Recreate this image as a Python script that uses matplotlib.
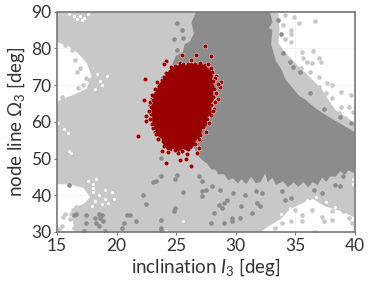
#!/usr/bin/env python3
# Scatter of inclination vs node line, three nested samples.
import matplotlib
matplotlib.use('Agg')
import matplotlib.pyplot as plt

plt.rcParams['font.family'] = ['Lato', 'DejaVu Sans']
plt.rcParams['mathtext.fontset'] = 'custom'
plt.rcParams['mathtext.rm'] = 'Lato'
plt.rcParams['mathtext.it'] = 'Lato:italic'

# Dense parts of the samples, read as outlines (inclination, node line).
light_x = [15, 15, 16, 16.8, 17.5, 17.9, 17.5, 16.5, 15, 15, 16, 17.2, 17.8, 17.3, 16.2, 16.3, 16.6, 32.1, 33, 33.8, 34.5, 35.4,
           36.5, 37.5, 39, 40, 40, 39.2, 38.4, 37.8, 37.3, 36.6, 35.9, 35.3, 34.8, 34.2, 33.6, 33.7, 33.6, 15]
light_y = [90, 81.7, 80.5, 78.5, 76, 72.5, 69, 67.5, 65.5, 43, 43, 42, 39.5, 37.8, 36.2, 33, 30, 30, 32, 33.5, 36, 37.5,
           39, 37, 35.5, 34, 59.7, 61.5, 63.2, 66, 68.6, 71, 73.3, 75, 76.8, 78.8, 81.4, 85, 90, 90]
dark_x = [26.7, 32.9, 33.1, 32.8, 33.1, 33, 33.2, 33.4, 33.9, 34.2, 34.8, 35.3, 35.9, 36.6, 37.3, 38, 38.7, 39.4, 40,
          40, 39.5, 39.2, 38.8, 38.4, 38, 37.6, 37.3, 36.9, 36.5, 36.1, 35.7, 35.3, 34.9, 34.4, 34, 33.4, 33.1, 32.7,
          32.5, 32.1, 31.7, 31.3, 30.9, 30.5, 30.2, 29.8, 29.4, 29, 28.6, 28.3, 28, 27.6, 27.2, 26.8, 25.5, 24.5, 25,
          25.6, 25.7, 26.2, 26.5, 26.3]
dark_y = [90, 90, 87, 85.5, 85, 81, 78.7, 76.5, 74, 71.5, 69.2, 67.2, 65.9, 64, 62.4, 61, 59.7, 58.4, 57.2,
          46, 46.8, 45.6, 46.5, 45, 45.2, 43.6, 44.8, 42.8, 43.6, 42.2, 43.6, 42.3, 43.5, 42.2, 43.8, 42.8, 44.8, 43.5,
          46, 43.6, 43.3, 45, 43, 44.4, 43.2, 44.6, 44.1, 45.8, 45.6, 47, 47, 48.6, 49.6, 51, 60, 74, 78,
          79, 81, 82, 84, 87]
red_x = [25, 25.5, 25.9, 26.3, 26.7, 27.1, 27.5, 27.9, 28.1, 28, 28.25, 28.1, 28.2, 27.9, 28, 27.6, 27.6, 27.2, 27.1, 26.7, 26.5,
         26, 25.6, 25.2, 24.7, 24.3, 23.9, 23.8, 23.4, 23.2, 23, 23, 22.9, 23.1, 23.1, 23.4, 23.5, 23.9, 24.2, 24.6]
red_y = [75, 75.8, 75.3, 76, 75.4, 75.8, 75.2, 74, 72.5, 71, 69.5, 68, 66, 64.8, 62.5, 61, 59, 58, 56, 55, 53.4,
         52, 52.6, 51.8, 52.7, 52.2, 54, 55.3, 56.3, 58.5, 60, 62, 64, 65.5, 67.5, 68.5, 70, 71.5, 73, 74.5]

# Separate points.
light_px = [16.9, 16.7, 17.4, 17.7, 17.2, 16.8, 17.7, 16.1, 15.4, 15.3, 16.5, 16, 18.2, 19.1, 15.7, 16.3, 17.9,
            35, 35.6, 34.7, 33.9, 33.3, 36.7, 36.4, 37.3, 38.1, 38.1, 37.4, 39, 39.5, 39.8, 39.2, 35.6,
            34.9, 35.3, 36.7, 34.2, 34.7, 34.7, 34, 34.2, 34.7, 35.6, 36.5, 35.7, 37, 37.2, 36, 36.4, 35.5,
            36.3, 37, 37.7, 38.1, 38.9, 39.7, 37, 38.1, 38.9, 39.5, 39.9, 38.7, 39.2, 37.8, 37.6,
            15.5, 16.2, 16.8, 15.4, 15.7, 16.1, 16.4, 15.2, 16.7, 17, 16.6, 16.9]
light_py = [74.5, 73.6, 71.8, 71.4, 70, 69.1, 67.3, 66.4, 66.8, 64.6, 76.8, 81.8, 74.5, 74.5, 80.8, 79.4, 75.6,
            36.1, 34.7, 33, 32.5, 31, 30, 36.1, 34.1, 35.6, 33.4, 33, 35.6, 33.7, 32.4, 37, 32.9,
            88.6, 87, 87.4, 89, 85, 84, 86.3, 82.4, 81.8, 79, 79.3, 77.3, 77.3, 76.3, 76.3, 75.9, 74.5,
            73.6, 72.3, 70.6, 70, 68.2, 67.3, 69.5, 66.4, 64.1, 64.1, 62.7, 62.3, 60.9, 63.2, 67.7,
            34, 35, 32, 31.5, 35, 33.5, 31, 30.8, 36, 34.5, 36.8, 33]
dark_px = [18.5, 18.2, 18.6, 18.3, 18.8, 18.5, 18.9, 16.4, 16.6, 17.4, 17.4, 17.3, 19, 16, 20.9, 21.1, 20.6, 21.6,
           20.5, 22.2, 22.5, 23.1, 23.3, 23.7, 23.7, 23.7, 23.7, 23.7, 24.9, 25.1, 24.8, 24.9, 25.6,
           26.9, 27.2, 27.2, 27.2, 27.5, 28, 28.7, 28.6, 29, 29.3, 28.9, 28.2, 27.9, 29, 29.7, 29.7, 30.4,
           30.5, 31.4, 31.8, 32.1, 29.8, 30.8, 31.7, 32.2, 33.9, 34.7, 34.2, 36.6, 37.3, 38.4, 38.8, 39,
           33.6, 33.8, 34, 34.6, 34.8, 35.4, 36.3, 37.4, 38.8, 39.7, 25.1, 25.5, 24.8, 25.6, 25.1, 24.9, 25.5]
dark_py = [35, 33.8, 33.8, 32.4, 34.7, 31.6, 33, 34.7, 35, 34.5, 32.5, 30.2, 30.4, 42.9, 34.5, 34.5, 32.4, 32.9,
           31.2, 40.2, 37.5, 43.5, 43.9, 45.2, 50.2, 33.4, 31.1, 30.2, 44.3, 45.5, 35.7, 36.6, 41,
           45.2, 43.9, 41.1, 39.7, 41.5, 42.4, 41.5, 37.4, 37.9, 38.8, 36.5, 35.2, 32.4, 32.4, 33.8, 32.9, 33.8,
           37, 35.2, 37.9, 37, 40.6, 40.2, 41.1, 40.6, 41.1, 39.3, 38.8, 41.5, 40.6, 42.9, 42.4, 45.2,
           87.7, 84, 78.6, 76.3, 75, 73.6, 67.7, 63.6, 61.2, 59.7, 87, 85, 82.5, 82.7, 79.5, 76.3, 76.3]
red_px = [27.4, 27.9, 26.7, 25.5, 24.2, 24, 22.4, 22.3, 22.5, 22.5, 21.8, 23.2, 24.2, 23.8, 25.3, 26.3, 25.8, 26.8,
          26.9, 28.4, 28.8, 28.7, 28.5, 28.2, 27.5, 27, 22.8, 23, 23.9,
          24.9, 25.3, 25.6, 26, 26.3, 26.6, 27, 27.4, 27.7, 27.9,
          28, 28.3, 28.1, 28.5, 28.2, 28.4, 28.1, 28.3, 27.9, 28.1, 27.9, 27.6, 27.8, 27.3, 27.5, 27, 26.9, 26.6, 26.2,
          26, 25.9, 25.5, 25.2, 24.9, 24.5, 24.3, 24, 23.9, 23.5, 23.7, 23.3,
          23.1, 23, 23.2, 22.8, 22.9, 22.7, 22.9, 22.8, 23.1, 23, 23.3, 23.2, 23.6, 23.4, 23.8, 24, 24.2, 24.5, 24.6]
red_py = [80.6, 77.9, 78.2, 78.2, 76.5, 75.6, 71.5, 65.8, 61.6, 60.3, 56.1, 57.1, 48.9, 52, 49.6, 48, 50, 51.4,
          52.8, 72.4, 70.9, 69.5, 66.2, 63.6, 60.2, 55, 64.5, 66.4, 72.3,
          75.3, 76, 75.6, 75.8, 76.7, 75.7, 76, 75.5, 75.7, 74.6,
          73.5, 72, 71, 70.3, 69, 67.8, 66.6, 65.5, 64.6, 62.8, 61.8, 60.8, 59.6, 58.5, 57.3, 56.4, 55.2, 54, 53.2,
          52.6, 51.2, 52, 51.4, 52.2, 52.5, 51.8, 53.5, 54.7, 55.2, 56.3, 56.6,
          58.3, 59.3, 60.2, 60.8, 62, 63, 64, 65.3, 66, 67.2, 68, 69, 69.8, 70.7, 71.3, 72.1, 73.2, 73.9, 74.8]
gap_x = [16, 16.4, 16.9, 17.3, 17.6, 17.1, 16.7, 15.1, 15.6, 15.9, 16, 16.2, 23.7, 24.2, 25.6,
         18, 18.5, 19, 18.2, 18.8, 19.3, 19.6, 18, 17.6, 18.3, 19, 17.9, 18, 19.8,
         18.1, 18.4, 18.6, 18.2, 18.8, 19.2, 33.8, 34.6, 35.2, 35.8, 36, 36.8, 37.6, 38.4, 39.9, 39.9]
gap_y = [89.3, 88.7, 88.9, 88.3, 89.4, 87.6, 88, 59.6, 58, 57, 52, 51.6, 30.5, 30.3, 33,
         41, 40, 39, 38.5, 37.5, 38, 41, 43, 44, 44.5, 41.5, 37, 42, 39,
         74.5, 73, 71, 69, 70, 72.5, 34.8, 36.6, 35.8, 37.8, 38.8, 39.6, 38.2, 36.8, 43, 44.5]

x_ticks = [15, 20, 25, 30, 35, 40]
y_ticks = [30, 40, 50, 60, 70, 80, 90]

LIGHT = '#c8c8c8'
DARK = '#8c8c8c'
RED = '#990000'

fig, ax = plt.subplots()
fig.set_size_inches(3.69, 2.87)
fig.subplots_adjust(left=57 / 369, right=354.5 / 369, top=1 - 11.5 / 287, bottom=1 - 232 / 287)

ax.grid(color='#f2f2f2', linewidth=0.6, zorder=0)
ax.set_axisbelow(True)
ax.fill(light_x, light_y, color=LIGHT, linewidth=0, zorder=1)
ax.scatter(gap_x, gap_y, s=5, color='white', linewidths=0, zorder=1.4)
ax.scatter(light_px, light_py, s=11, color=LIGHT, linewidths=0, zorder=1.5)
ax.fill(dark_x, dark_y, color=DARK, linewidth=0, zorder=2)
ax.scatter(dark_px, dark_py, s=11, color=DARK, linewidths=0, zorder=2.5)
ax.scatter(red_px, red_py, s=12, color=RED, edgecolors='white', linewidths=0.3, zorder=3)
ax.fill(red_x, red_y, color=RED, linewidth=0, zorder=3.5)

ax.set_xlim(15, 40)
ax.set_ylim(30, 90)
ax.set_xticks(x_ticks)
ax.set_yticks(y_ticks)
ax.tick_params(labelsize=12.5, length=2.5, width=0.7, color='#777777', labelcolor='#333333', pad=1.5)
for side in ax.spines.values():
    side.set_color('#777777')
    side.set_linewidth(1.2)
ax.set_xlabel(r'inclination $I_3$ [deg]', fontsize=13.5, color='#333333', labelpad=2)
ax.set_ylabel(r'node line $\Omega_3$ [deg]', fontsize=13.5, color='#333333', labelpad=3)

plt.savefig('out.png', dpi=100)
